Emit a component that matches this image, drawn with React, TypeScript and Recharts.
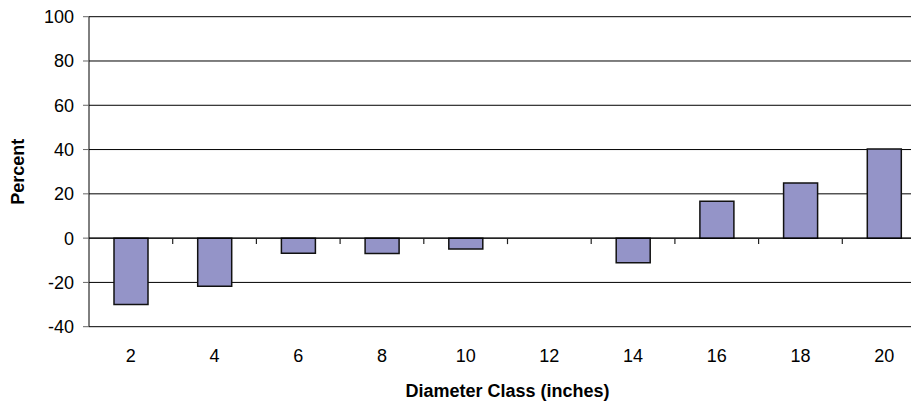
import { ComposedChart, Bar, XAxis, YAxis, CartesianGrid, ReferenceLine } from 'recharts';

// diameter classes (inches) and percent change per class
const classes = [2, 4, 6, 8, 10, 12, 14, 16, 18, 20];
const percent = [-30, -21.7, -6.8, -6.9, -4.9, 0, -11.1, 16.7, 24.9, 40.2];
const yTicks = [-40, -20, 0, 20, 40, 60, 80, 100];
// class boundaries (inches): Excel draws small tick marks there on the zero line
const boundaries = [3, 5, 7, 9, 11, 13, 15, 17, 19];

const data = classes.map((c, i) => ({ cls: c, pct: percent[i] }));

const font = '"Liberation Sans", Arial, sans-serif';

export default function App() {
  return (
    <div style={{ position: 'fixed', left: 0, top: 0, width: 911, height: 404, overflow: 'hidden', background: '#fff' }}>
      <ComposedChart
        width={930}
        height={404}
        data={data}
        margin={{ top: 16.7, right: 4, left: 0, bottom: 0 }}
        style={{ fontFamily: font }}
      >
        <CartesianGrid vertical={false} stroke="#000" />
        <XAxis
          dataKey="cls"
          type="number"
          domain={[1, 21]}
          allowDataOverflow
          ticks={classes}
          interval={0}
          height={77.3}
          axisLine={false}
          tickLine={false}
          tickSize={0}
          tickMargin={23}
          tick={{ fill: '#000', fontSize: 18, fontFamily: font }}
          label={{
            value: 'Diameter Class (inches)',
            position: 'insideBottom',
            offset: 7.3,
            fill: '#000',
            fontSize: 18,
            fontWeight: 'bold',
            fontFamily: font,
          }}
        />
        <YAxis
          width={89}
          domain={[-40, 100]}
          ticks={yTicks}
          interval={0}
          axisLine={{ stroke: '#000' }}
          tickLine={{ stroke: '#666' }}
          tickSize={6}
          tickMargin={9}
          tick={{ fill: '#000', fontSize: 18, fontFamily: font }}
          label={{
            value: 'Percent',
            angle: -90,
            position: 'insideLeft',
            offset: 18,
            fill: '#000',
            fontSize: 18,
            fontWeight: 'bold',
            fontFamily: font,
            style: { textAnchor: 'middle' },
          }}
        />
        <Bar dataKey="pct" barSize={34} fill="#9494C8" stroke="#111" strokeWidth={1.5} isAnimationActive={false} />
        <ReferenceLine y={0} stroke="#000" ifOverflow="visible" />
        {boundaries.map((b) => (
          <ReferenceLine
            key={b}
            ifOverflow="visible"
            segment={[
              { x: b, y: 0 },
              { x: b, y: -2.7 },
            ]}
            stroke="#222"
            strokeWidth={1.2}
          />
        ))}
      </ComposedChart>
    </div>
  );
}
